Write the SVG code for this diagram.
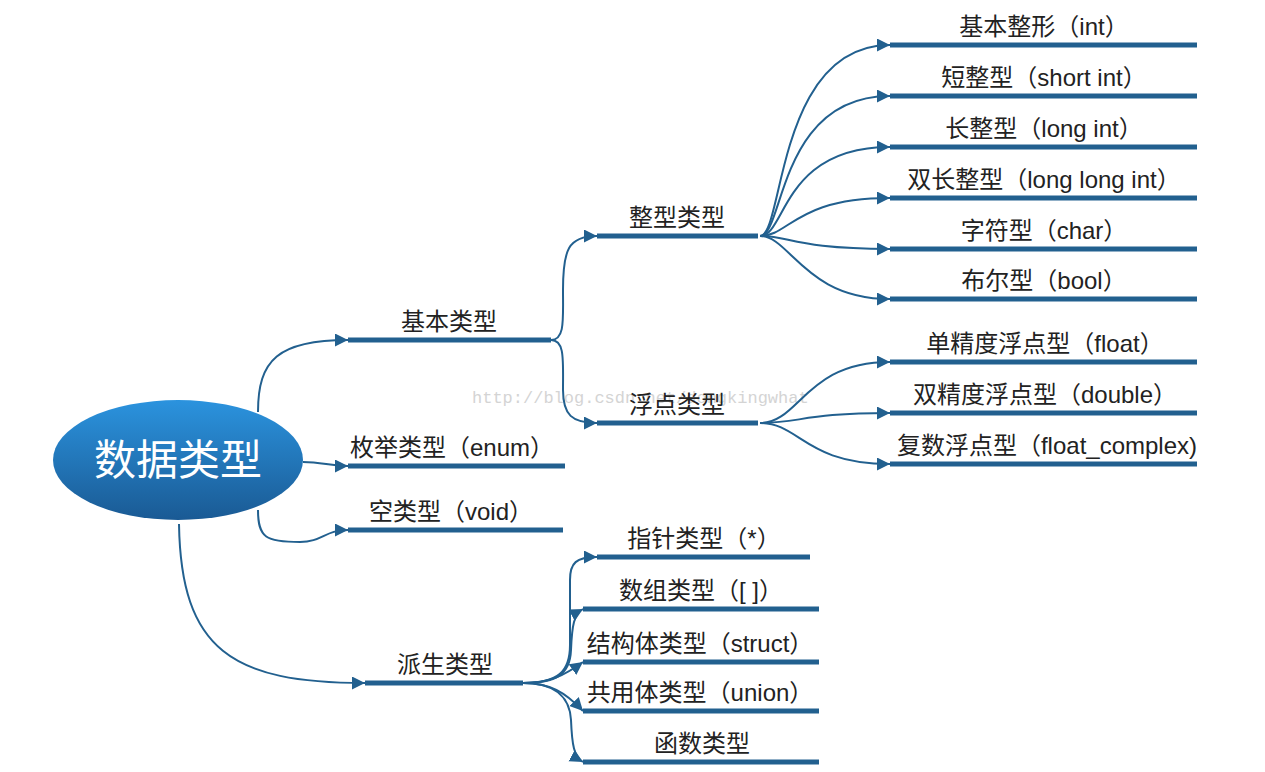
<svg xmlns="http://www.w3.org/2000/svg" width="1265" height="772" viewBox="0 0 1265 772">
<defs>
<linearGradient id="rootGrad" x1="0" y1="0" x2="0" y2="1">
<stop offset="0" stop-color="#2b93de"/>
<stop offset="1" stop-color="#1a5a94"/>
</linearGradient>
<marker id="arr" markerUnits="userSpaceOnUse" markerWidth="14" markerHeight="14" refX="13" refY="6.5" orient="auto">
<path d="M0,0 L13,6.5 L0,13 z" fill="#22608f"/>
</marker>
<style>
.bar{stroke:#22608f;stroke-width:5;fill:none}
.con{stroke:#22608f;stroke-width:2;fill:none;marker-end:url(#arr)}
.lbl{font-family:"Liberation Sans","Noto Sans CJK SC",sans-serif;font-size:24px;fill:#222;text-anchor:middle}
.root{font-family:"Liberation Serif","Noto Sans CJK SC",serif;font-size:42px;fill:#fff;text-anchor:middle}
.wm{font-family:"Liberation Mono",monospace;font-size:17px;fill:#d4d4d4}
</style>
</defs>
<rect width="1265" height="772" fill="#fff"/>
<text class="wm" x="472" y="403">http://blog.csdn.net/dongkingwhat</text>

<g id="connectors">
<path class="con" d="M258,412 C258,360 278,340 348,340"/>
<path class="con" d="M303,462 C322,462 330,466 348,466"/>
<path class="con" d="M258,510 C258,538 266,542 300,542 C322,542 325,530 348,530"/>
<path class="con" d="M179,524 C181,650 232,683 365,683"/>
<path class="con" d="M551,340 C565,340 563,320 563,290 C563,250 568,236 597,236"/>
<path class="con" d="M551,340 C565,340 563,360 563,390 C563,415 572,423 597,423"/>
<path class="con" d="M760,236 C784,236 776,45 890,45"/>
<path class="con" d="M760,236 C784,236 778,96 890,96"/>
<path class="con" d="M760,236 C786,236 782,147 890,147"/>
<path class="con" d="M760,236 C790,236 795,198 890,198"/>
<path class="con" d="M760,236 C790,236 795,249 890,249"/>
<path class="con" d="M760,236 C790,236 805,299 890,299"/>
<path class="con" d="M760,423 C800,423 805,362 890,362"/>
<path class="con" d="M760,423 C800,423 805,413 890,413"/>
<path class="con" d="M760,423 C800,423 805,464 890,464"/>
<path class="con" d="M523,683 C558,683 570,672 570,645 L570,580 C570,563 576,557 597,557"/>
<path class="con" d="M523,683 C556,683 570,675 571,650 C572,625 574,614 583,609"/>
<path class="con" d="M523,683 C550,683 565,675 583,662"/>
<path class="con" d="M523,683 C550,683 565,692 583,711"/>
<path class="con" d="M523,683 C558,683 570,700 571,720 C572,745 574,757 583,762"/>
</g>

<g id="root">
<ellipse cx="178" cy="460" rx="125" ry="60" fill="url(#rootGrad)"/>
<text class="root" x="178" y="475">数据类型</text>
</g>

<g id="basic"><line class="bar" x1="348" y1="340" x2="551" y2="340"/><text class="lbl" x="449" y="330">基本类型</text></g>
<g id="enum"><line class="bar" x1="348" y1="466" x2="565" y2="466"/><text class="lbl" x="452" y="456">枚举类型（enum）</text></g>
<g id="void"><line class="bar" x1="348" y1="530" x2="563" y2="530"/><text class="lbl" x="451" y="520">空类型（void）</text></g>
<g id="derived"><line class="bar" x1="365" y1="683" x2="523" y2="683"/><text class="lbl" x="445" y="673">派生类型</text></g>

<g id="integer"><line class="bar" x1="597" y1="236" x2="758" y2="236"/><text class="lbl" x="677" y="226">整型类型</text></g>
<g id="float"><line class="bar" x1="597" y1="423" x2="758" y2="423"/><text class="lbl" x="677" y="413">浮点类型</text></g>

<g id="int"><line class="bar" x1="890" y1="45" x2="1197" y2="45"/><text class="lbl" x="1044" y="35">基本整形（int）</text></g>
<g id="short"><line class="bar" x1="890" y1="96" x2="1197" y2="96"/><text class="lbl" x="1044" y="86">短整型（short int）</text></g>
<g id="long"><line class="bar" x1="890" y1="147" x2="1197" y2="147"/><text class="lbl" x="1044" y="137">长整型（long int）</text></g>
<g id="longlong"><line class="bar" x1="890" y1="198" x2="1197" y2="198"/><text class="lbl" x="1044" y="188">双长整型（long long int）</text></g>
<g id="char"><line class="bar" x1="890" y1="249" x2="1197" y2="249"/><text class="lbl" x="1044" y="239">字符型（char）</text></g>
<g id="bool"><line class="bar" x1="890" y1="299" x2="1197" y2="299"/><text class="lbl" x="1044" y="289">布尔型（bool）</text></g>

<g id="float1"><line class="bar" x1="890" y1="362" x2="1197" y2="362"/><text class="lbl" x="1045" y="352">单精度浮点型（float）</text></g>
<g id="double"><line class="bar" x1="890" y1="413" x2="1197" y2="413"/><text class="lbl" x="1045" y="403">双精度浮点型（double）</text></g>
<g id="complex"><line class="bar" x1="890" y1="464" x2="1197" y2="464"/><text class="lbl" x="1047" y="454">复数浮点型（float_complex)</text></g>

<g id="pointer"><line class="bar" x1="597" y1="557" x2="810" y2="557"/><text class="lbl" x="704" y="547">指针类型（*）</text></g>
<g id="array"><line class="bar" x1="583" y1="609" x2="819" y2="609"/><text class="lbl" x="701" y="599">数组类型（[ ]）</text></g>
<g id="struct"><line class="bar" x1="583" y1="662" x2="819" y2="662"/><text class="lbl" x="700" y="652">结构体类型（struct）</text></g>
<g id="union"><line class="bar" x1="583" y1="711" x2="819" y2="711"/><text class="lbl" x="700" y="701">共用体类型（union）</text></g>
<g id="function"><line class="bar" x1="583" y1="762" x2="819" y2="762"/><text class="lbl" x="702" y="752">函数类型</text></g>
</svg>
